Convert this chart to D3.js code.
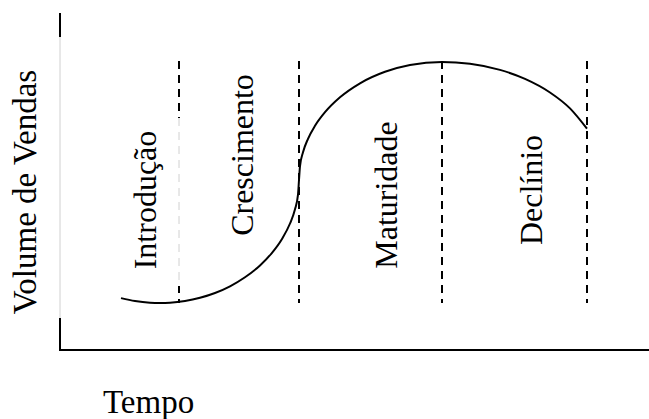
<!DOCTYPE html>
<html>
<head>
<meta charset="utf-8">
<script src="https://cdn.jsdelivr.net/npm/d3@7"></script>
<style>
  body { margin: 0; background: #fff; }
  text { font-family: "Liberation Serif", "Times New Roman", serif; fill: #000; }
</style>
</head>
<body>
<div id="chart"></div>
<script>
// Data (time 0-580, volume 0-300, arbitrary units)
//=====================================================================
var curveTime   = [61, 75, 90, 100, 110, 125, 140, 155, 170, 185, 200, 212, 222, 230, 235, 238, 239,
                   240, 243, 248, 255, 265, 280, 300, 325, 350, 382, 410, 440, 465, 490, 510, 527];
var curveVolume = [51.9, 49.0, 47.3, 47.0, 47.3, 49.0, 52.2, 57.0, 63.7, 72.7, 84.6, 97.2, 111.1, 126.5, 140.7, 155.3, 170.0,
                   183.9, 197.7, 211.2, 224.2, 237.8, 252.7, 266.7, 278.2, 285.0, 288.0, 286.2, 280.1, 271.1, 257.5, 241.6, 221.3];

var phaseNames  = ["Introdução", "Crescimento", "Maturidade", "Declínio"];
var phaseEnds   = [119, 239, 382, 527];

var xTitle = "Tempo";
var yTitle = "Volume de Vendas";

// Layout
//=====================================================================
var svgWidth = 649;
var svgHeight = 419;

var svg = d3.select("#chart")
    .append("svg")
    .attr("width", svgWidth)
    .attr("height", svgHeight);

var x = d3.scaleLinear().domain([0, 580]).range([60, 640]);
var y = d3.scaleLinear().domain([0, 300]).range([350, 50]);

var points = curveTime.map((t, i) => [t, curveVolume[i]]);

// Axes (plain lines, no ticks)
//=====================================================================
// y axis: dark stubs at both ends, faint in the middle
svg.append("line")
    .attr("x1", 60).attr("x2", 60).attr("y1", 37).attr("y2", 318)
    .attr("stroke", "#d0d0d0").attr("stroke-width", 1);
svg.append("line")
    .attr("x1", 60).attr("x2", 60).attr("y1", 13).attr("y2", 37)
    .attr("stroke", "#000").attr("stroke-width", 2);
svg.append("line")
    .attr("x1", 60).attr("x2", 60).attr("y1", 318).attr("y2", y(0) + 1)
    .attr("stroke", "#000").attr("stroke-width", 2);

// x axis
svg.append("line")
    .attr("x1", 59).attr("x2", 649).attr("y1", y(0)).attr("y2", y(0))
    .attr("stroke", "#000").attr("stroke-width", 2);

// Phase boundaries (dashed)
//=====================================================================
var vMin = d3.min(curveVolume), vMax = d3.max(curveVolume);
var yTop = y(vMax) - 1, yBot = y(vMin);

phaseEnds.forEach(function (t, i) {
    if (i === 0) {
        // first boundary is faint through the middle
        svg.append("line")
            .attr("x1", x(t)).attr("x2", x(t)).attr("y1", yTop).attr("y2", 118)
            .attr("stroke", "#000").attr("stroke-width", 2)
            .attr("stroke-dasharray", "8,6");
        svg.append("line")
            .attr("x1", x(t)).attr("x2", x(t)).attr("y1", 118).attr("y2", 282)
            .attr("stroke", "#d0d0d0").attr("stroke-width", 1)
            .attr("stroke-dasharray", "8,6");
        svg.append("line")
            .attr("x1", x(t)).attr("x2", x(t)).attr("y1", 286).attr("y2", yBot)
            .attr("stroke", "#000").attr("stroke-width", 2)
            .attr("stroke-dasharray", "7,6");
    } else {
        svg.append("line")
            .attr("x1", x(t)).attr("x2", x(t)).attr("y1", yTop).attr("y2", yBot)
            .attr("stroke", "#000").attr("stroke-width", 2)
            .attr("stroke-dasharray", "8,6");
    }
});

// Life cycle curve
//=====================================================================
var line = d3.line()
    .x(d => x(d[0]))
    .y(d => y(d[1]))
    .curve(d3.curveMonotoneX);

svg.append("path")
    .datum(points)
    .attr("d", line)
    .attr("fill", "none")
    .attr("stroke", "#000")
    .attr("stroke-width", 2);

// Phase labels (rotated)
//=====================================================================
var labelPos = [[156, 200], [253, 155], [397, 195], [542, 190]];

svg.append("g")
    .selectAll("text")
    .data(phaseNames)
    .enter()
    .append("text")
    .attr("transform", (d, i) => `translate(${labelPos[i][0]}, ${labelPos[i][1]}) rotate(-90)`)
    .attr("text-anchor", "middle")
    .style("font-size", "32px")
    .text(d => d);

// Axis titles
//=====================================================================
svg.append("text")
    .attr("transform", "translate(36, 192) rotate(-90)")
    .attr("text-anchor", "middle")
    .style("font-size", "33px")
    .text(yTitle);

svg.append("text")
    .attr("x", 103)
    .attr("y", 413)
    .style("font-size", "33px")
    .text(xTitle);
</script>
</body>
</html>
